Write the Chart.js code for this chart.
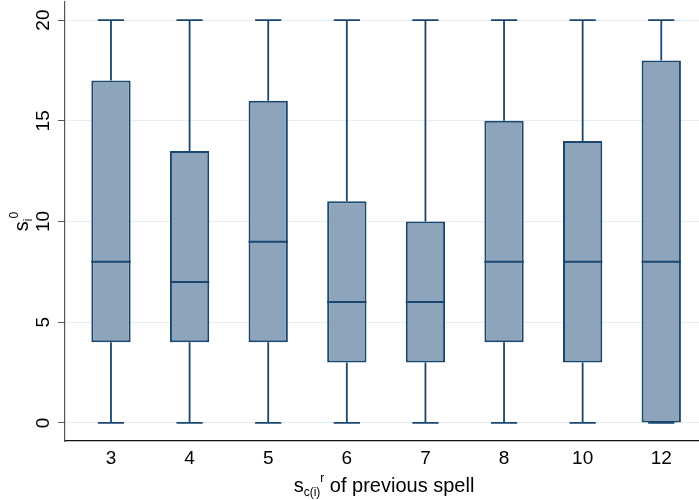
<!DOCTYPE html>
<html>
<head>
<meta charset="utf-8">
<script src="https://cdn.jsdelivr.net/npm/chart.js@4.4.1/dist/chart.umd.min.js"></script>
<style>
  html, body { margin: 0; padding: 0; background: #fff; }
  #wrap { width: 699px; height: 500px; }
</style>
</head>
<body>
<div id="wrap"><canvas id="chart"></canvas></div>
<script>
// previous spell categories and box stats
const categories = ['3', '4', '5', '6', '7', '8', '10', '12'];
const mins    = [0, 0, 0, 0, 0, 0, 0, 0];
const q1s     = [4, 4, 4, 3, 3, 4, 3, 0];
const medians = [8, 7, 9, 6, 6, 8, 8, 8];
const q3s     = [17, 13.5, 16, 11, 10, 15, 14, 18];
const maxs    = [20, 20, 20, 20, 20, 20, 20, 20];
const yTicks  = [0, 5, 10, 15, 20];

const NAVY = '#1a476f';
const FILL = '#8ea4ba';
const FONT = '"Liberation Sans", Arial, sans-serif';

// draws text made of pieces (normal / sub / sup) centered on x
function drawRich(ctx, parts, x, y) {
    let total = 0;
    parts.forEach(p => {
        ctx.font = p.size + 'px ' + FONT;
        p.w = ctx.measureText(p.t).width;
        total += p.w;
    });
    let cx = x - total / 2;
    ctx.textAlign = 'left';
    ctx.textBaseline = 'alphabetic';
    parts.forEach(p => {
        ctx.font = p.size + 'px ' + FONT;
        ctx.fillText(p.t, cx, y + (p.dy || 0));
        cx += p.w;
    });
}

const boxExtras = {
    id: 'boxExtras',
    afterDatasetsDraw(chart) {
        const ctx = chart.ctx;
        const y = chart.scales.y;
        const meta = chart.getDatasetMeta(0);
        ctx.save();
        ctx.strokeStyle = NAVY;
        ctx.lineWidth = 1.8;
        meta.data.forEach((bar, i) => {
            const cx = bar.x;
            const half = bar.width / 2;
            const cap = bar.width / 3;
            ctx.beginPath();
            // whiskers
            ctx.moveTo(cx, y.getPixelForValue(q3s[i]));
            ctx.lineTo(cx, y.getPixelForValue(maxs[i]));
            ctx.moveTo(cx, y.getPixelForValue(q1s[i]));
            ctx.lineTo(cx, y.getPixelForValue(mins[i]));
            // caps
            ctx.moveTo(cx - cap, y.getPixelForValue(maxs[i]));
            ctx.lineTo(cx + cap, y.getPixelForValue(maxs[i]));
            ctx.moveTo(cx - cap, y.getPixelForValue(mins[i]));
            ctx.lineTo(cx + cap, y.getPixelForValue(mins[i]));
            ctx.stroke();
            // median
            ctx.beginPath();
            ctx.lineWidth = 2;
            ctx.moveTo(cx - half, y.getPixelForValue(medians[i]));
            ctx.lineTo(cx + half, y.getPixelForValue(medians[i]));
            ctx.stroke();
            ctx.lineWidth = 1.8;
        });
        ctx.restore();
    },
    afterDraw(chart) {
        const ctx = chart.ctx;
        const y = chart.scales.y;
        const area = chart.chartArea;
        ctx.save();
        ctx.fillStyle = '#000';
        // y tick labels, rotated
        ctx.font = '19px ' + FONT;
        yTicks.forEach(v => {
            ctx.save();
            ctx.translate(49, y.getPixelForValue(v));
            ctx.rotate(-Math.PI / 2);
            ctx.textAlign = 'center';
            ctx.textBaseline = 'alphabetic';
            ctx.fillText(String(v), 0, 0);
            ctx.restore();
        });
        // y title
        ctx.save();
        ctx.translate(28, (area.top + area.bottom) / 2);
        ctx.rotate(-Math.PI / 2);
        drawRich(ctx, [
            { t: 's', size: 20 },
            { t: 'i', size: 12, dy: 4 },
            { t: '0', size: 12, dy: -10 }
        ], 0, 0);
        ctx.restore();
        // x title
        drawRich(ctx, [
            { t: 's', size: 20 },
            { t: 'c(i)', size: 12, dy: 4 },
            { t: 'r', size: 12, dy: -10 },
            { t: ' of previous spell', size: 20 }
        ], (area.left + area.right) / 2 + 2, 492);
        ctx.restore();
    }
};

new Chart(document.getElementById('chart'), {
    type: 'bar',
    data: {
        datasets: [{
            data: categories.map((c, i) => ({ x: i, y: [q1s[i], q3s[i]] })),
            backgroundColor: FILL,
            borderColor: NAVY,
            borderWidth: 2,
            borderSkipped: false,
            barPercentage: 0.5,
            categoryPercentage: 1
        }]
    },
    options: {
        responsive: true,
        maintainAspectRatio: false,
        animation: false,
        layout: { padding: { top: 2, right: 0, left: 0, bottom: 0 } },
        plugins: { legend: { display: false }, tooltip: { enabled: false } },
        scales: {
            x: {
                type: 'linear',
                offset: false,
                min: -0.585,
                max: 7.48,
                afterBuildTicks: s => { s.ticks = categories.map((c, i) => ({ value: i })); },
                afterFit: s => { s.height = 59; },
                grid: { display: false, drawTicks: false, offset: false },
                border: { display: true, color: '#111', width: 1.3 },
                ticks: {
                    padding: 6,
                    color: '#000',
                    font: { family: FONT, size: 19 },
                    maxRotation: 0,
                    callback: v => categories[v]
                }
            },
            y: {
                min: -0.9,
                max: 20.9,
                afterBuildTicks: s => { s.ticks = yTicks.map(v => ({ value: v })); },
                afterFit: s => { s.width = 65; },
                grid: { color: '#e6eef1', tickColor: '#555', tickLength: 7, lineWidth: 1 },
                border: { display: true, color: '#555', width: 1.2 },
                ticks: { display: false }
            }
        }
    },
    plugins: [boxExtras]
});
</script>
</body>
</html>
